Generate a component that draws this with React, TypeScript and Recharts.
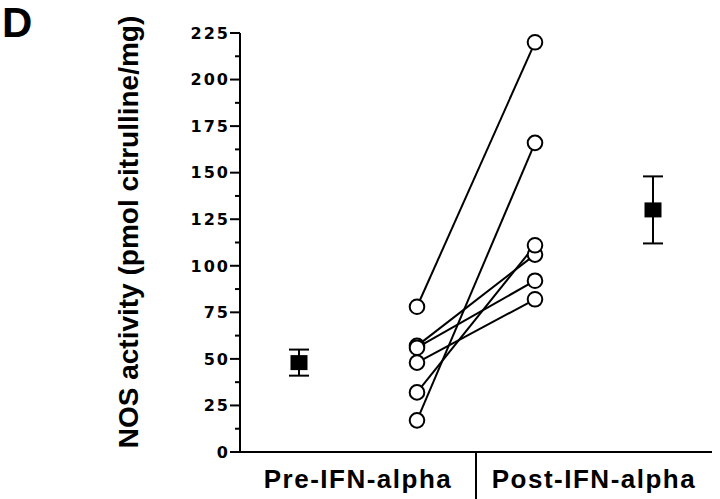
import React from 'react';
import { ScatterChart, Scatter, XAxis, YAxis, ErrorBar } from 'recharts';

// paired measurements, one entry per patient
const preValues = [78, 57, 56, 48, 32, 17];
const postValues = [220, 106, 92, 82, 111, 166];

// group means with error
const preMean = [{ x: 1, y: 48, err: 7 }];
const postMean = [{ x: 7, y: 130, err: 18 }];

const preX = 3;
const postX = 5;

const yMajorTicks = [0, 25, 50, 75, 100, 125, 150, 175, 200, 225];
const yMinorTicks = [12.5, 37.5, 62.5, 87.5, 112.5, 137.5, 162.5, 187.5, 212.5];
const yTicks = [...yMajorTicks, ...yMinorTicks].sort((a, b) => a - b);

const xGroupTicks = [2, 4, 6];
const xGroupLabels: Record<number, string> = { 2: 'Pre-IFN-alpha', 6: 'Post-IFN-alpha' };

const yLabel = 'NOS activity (pmol citrulline/mg)';
const panelLetter = 'D';

const ARIAL = '"Liberation Sans", Arial, sans-serif';
const DEJAVU = '"DejaVu Sans", sans-serif';

const pairs = preValues.map((v, i) => [
  { x: preX, y: v },
  { x: postX, y: postValues[i] },
]);
const preCircles = preValues.map(v => ({ x: preX, y: v }));
const postCircles = postValues.map(v => ({ x: postX, y: v }));

const YTick = (props: any) => {
  const { x, y, payload } = props;
  const major = yMajorTicks.includes(payload.value);
  return (
    <g>
      <line x1={x - (major ? 10 : 5)} x2={x} y1={y} y2={y} stroke="#000" strokeWidth={2} />
      {major && (
        <text
          x={x - 10}
          y={y}
          dy="0.36em"
          textAnchor="end"
          fontFamily={DEJAVU}
          fontWeight="bold"
          fontSize={16}
          letterSpacing={2}
          fill="#000"
        >
          {payload.value}
        </text>
      )}
    </g>
  );
};

const XTick = (props: any) => {
  const { x, y, payload } = props;
  const label = xGroupLabels[payload.value];
  if (!label) {
    return <line x1={x} x2={x} y1={y} y2={y + 50} stroke="#000" strokeWidth={2} />;
  }
  return (
    <text
      x={x}
      y={y + 36}
      textAnchor="middle"
      fontFamily={ARIAL}
      fontWeight="bold"
      fontSize={26}
      letterSpacing={1.5}
      fill="#000"
    >
      {label}
    </text>
  );
};

const MeanSquare = (props: any) => {
  const { cx, cy } = props;
  return <rect x={cx - 8.5} y={cy - 7.5} width={17} height={15} fill="#000" />;
};

const OpenCircle = (props: any) => {
  const { cx, cy } = props;
  return <circle cx={cx} cy={cy} r={7.3} fill="#fff" stroke="#000" strokeWidth={2} />;
};

const NoShape = () => <g />;

export default function App() {
  return (
    <div style={{ position: 'absolute', left: 0, top: 0, width: 720, height: 499, background: '#fff' }}>
      <div
        style={{
          position: 'absolute',
          left: 2,
          top: 1.5,
          fontFamily: ARIAL,
          fontWeight: 'bold',
          fontSize: 42,
          lineHeight: 1,
        }}
      >
        {panelLetter}
      </div>
      <div
        style={{
          position: 'absolute',
          left: 128.5 - 240,
          top: 231.5 - 14,
          width: 480,
          height: 28,
          lineHeight: '28px',
          textAlign: 'center',
          fontFamily: ARIAL,
          fontWeight: 'bold',
          fontSize: 28,
          whiteSpace: 'nowrap',
          transform: 'rotate(-90deg)',
        }}
      >
        {yLabel}
      </div>
      <ScatterChart width={720} height={499} margin={{ top: 33, right: 8, left: 0, bottom: 0 }}>
        <XAxis
          type="number"
          dataKey="x"
          domain={[0, 8]}
          ticks={xGroupTicks}
          tick={<XTick />}
          tickLine={false}
          tickSize={0}
          tickMargin={0}
          height={47}
          axisLine={{ stroke: '#000', strokeWidth: 2 }}
          interval={0}
        />
        <YAxis
          type="number"
          dataKey="y"
          domain={[0, 225]}
          ticks={yTicks}
          tick={<YTick />}
          tickLine={false}
          tickSize={0}
          tickMargin={0}
          width={240}
          axisLine={{ stroke: '#000', strokeWidth: 2 }}
          interval={0}
        />
        {pairs.map((d, i) => (
          <Scatter
            key={`pair-${i}`}
            data={d}
            line={{ stroke: '#000', strokeWidth: 2 }}
            shape={<NoShape />}
            isAnimationActive={false}
          />
        ))}
        <Scatter data={preCircles} shape={<OpenCircle />} isAnimationActive={false} />
        <Scatter data={postCircles} shape={<OpenCircle />} isAnimationActive={false} />
        <Scatter data={preMean} shape={<MeanSquare />} isAnimationActive={false}>
          <ErrorBar dataKey="err" direction="y" width={10} stroke="#000" strokeWidth={2} />
        </Scatter>
        <Scatter data={postMean} shape={<MeanSquare />} isAnimationActive={false}>
          <ErrorBar dataKey="err" direction="y" width={10} stroke="#000" strokeWidth={2} />
        </Scatter>
      </ScatterChart>
    </div>
  );
}
